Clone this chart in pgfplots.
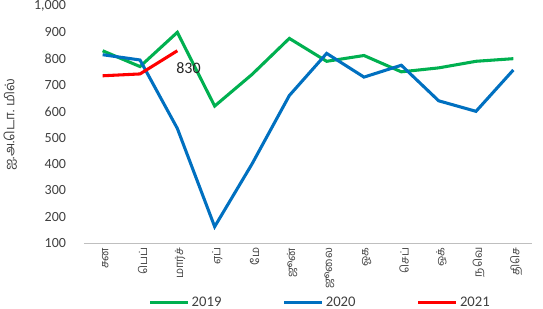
\documentclass[border=0pt]{standalone}
\usepackage{fontspec}
\usepackage{pgfplots}
\pgfplotsset{compat=1.18}
\setmainfont{Carlito}
\newfontfamily\tamil[Script=Tamil]{Hind Madurai}
\definecolor{cgreen}{RGB}{0,176,80}
\definecolor{cblue}{RGB}{0,112,192}
\definecolor{cred}{RGB}{255,0,0}
\definecolor{tick}{RGB}{64,64,64}
\begin{document}
\begin{tikzpicture}
\begin{axis}[name=ax,
  scale only axis, width=336pt, height=177.75pt,
  xmin=-0.5, xmax=11.5, ymin=100, ymax=1000,
  axis x line*=bottom, axis y line*=left,
  x axis line style={draw=black!25, line width=0.6pt, -},
  y axis line style={draw=none},
  xtick={0,...,11}, tick style={draw=none},
  xticklabels={சன,பெப்,மார்ச்,ஏப்,மே,ஜூன்,ஜூலை,ஓக,செப்,ஒக்,நவெ,திசெ},
  x tick label style={font=\tamil\fontsize{8.5}{9}\selectfont, rotate=90, anchor=east, text=tick, yshift=-2pt},
  ytick={100,200,...,1000},
  yticklabel style={font=\fontsize{10.5}{12}\selectfont, text=tick, xshift=-10pt},
  /pgf/number format/assume math mode=true,
  /pgf/number format/1000 sep={,},
  ylabel={\tamil ஐ.அ.டொ. மில்},
  ylabel style={font=\tamil\fontsize{10}{11}\selectfont, text=tick, yshift=6pt},
  legend style={at={(0.528,-0.205)}, anchor=north, draw=none, legend columns=3,
    font=\fontsize{11}{12}\selectfont, text=tick,
    /tikz/every odd column/.append style={inner xsep=1pt},
    /tikz/every even column/.append style={column sep=44pt}},
  legend image code/.code={\draw[#1] (0,0) -- (28pt,0);},
  every axis plot/.append style={line width=2.3pt, mark=none},
]
\addplot[cgreen] coordinates {(0,830) (1,770) (2,900) (3,620) (4,740) (5,877) (6,790) (7,812) (8,750) (9,765) (10,790) (11,800)};
\addlegendentry{2019}
\addplot[cblue] coordinates {(0,815) (1,795) (2,535) (3,162) (4,400) (5,660) (6,820) (7,730) (8,775) (9,640) (10,600) (11,757)};
\addlegendentry{2020}
\addplot[cred] coordinates {(0,735) (1,742) (2,830)};
\addlegendentry{2021}
\node[font=\fontsize{12}{13}\selectfont, text=black!85] at (axis cs:2.3,763) {830};
\end{axis}
\pgfresetboundingbox
\path ([shift={(-63pt,-49.5pt)}]ax.south west) rectangle ([shift={(8.25pt,4.5pt)}]ax.north east);
\end{tikzpicture}
\end{document}
